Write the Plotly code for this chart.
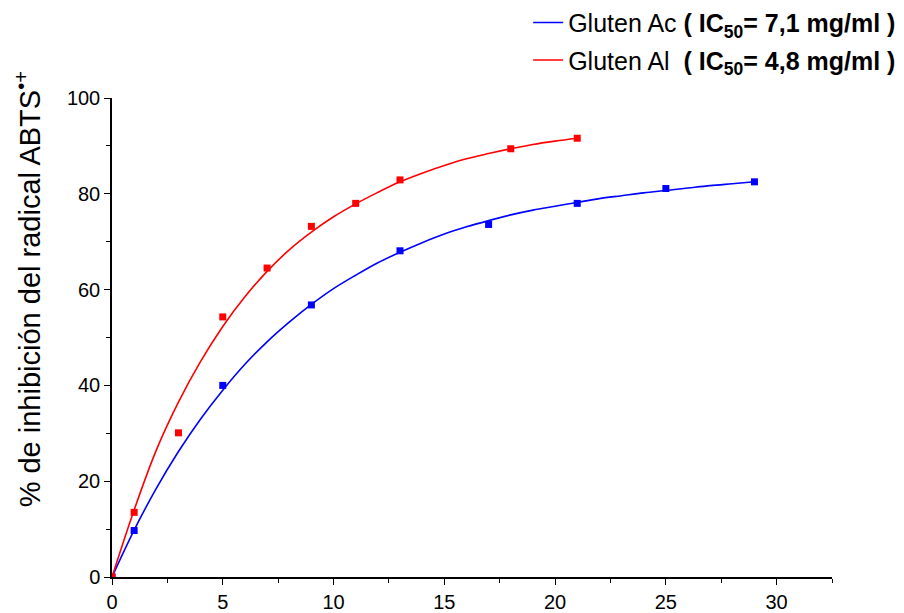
import plotly.graph_objects as go

# Measured points
ac_x = [0, 1, 5, 9, 13, 17, 21, 25, 29]
ac_y = [0, 9.7, 40.0, 56.8, 68.1, 73.6, 78.0, 81.1, 82.5]
al_x = [0, 1, 3, 5, 7, 9, 11, 13, 18, 21]
al_y = [0, 13.5, 30.1, 54.3, 64.5, 73.2, 78.0, 82.9, 89.4, 91.6]

# Fitted curves
ac_fit_x = list(range(0, 30))
ac_fit_y = [0, 9.8, 18.5, 26.2, 33.0, 39.0, 44.4, 49.1, 53.2, 56.9, 60.2, 63.0, 65.6,
            67.8, 69.8, 71.6, 73.1, 74.4, 75.6, 76.6, 77.4, 78.2, 79.0, 79.6, 80.2,
            80.7, 81.2, 81.7, 82.1, 82.5]
al_fit_x = list(range(0, 22))
al_fit_y = [0, 14.0, 26.5, 36.5, 45.0, 52.3, 58.5, 63.8, 68.3, 72.0, 75.2, 77.9, 80.3,
            82.5, 84.3, 85.9, 87.3, 88.4, 89.4, 90.3, 91.0, 91.6]

names = ["Gluten Ac <b>( IC<sub>50</sub>= 7,1 mg/ml )</b>",
         "Gluten Al  <b>( IC<sub>50</sub>= 4,8 mg/ml )</b>"]
colors = ["#0000ff", "#ff0000"]
y_title = "% de inhibición del radical ABTS<sup>•+</sup>"

FONT = "Liberation Sans, Arial"

fig = go.Figure()
for fx, fy, px, py, nm, c, g in [(ac_fit_x, ac_fit_y, ac_x, ac_y, names[0], colors[0], "a"),
                                  (al_fit_x, al_fit_y, al_x, al_y, names[1], colors[1], "b")]:
    fig.add_trace(go.Scatter(x=fx, y=fy, mode="lines", name=nm, legendgroup=g,
                             line=dict(color=c, width=1.6, shape="spline")))
    fig.add_trace(go.Scatter(x=px, y=py, mode="markers", showlegend=False, legendgroup=g,
                             marker=dict(symbol="square", size=7, color=c)))

axis_common = dict(showline=True, linecolor="black", linewidth=1.5, showgrid=False,
                   zeroline=False, ticks="outside", ticklen=6, tickwidth=1.3,
                   tickcolor="black", automargin=False,
                   tickfont=dict(family=FONT, size=20, color="black"))

fig.update_xaxes(range=[0, 32.5], tickvals=[0, 5, 10, 15, 20, 25, 30],
                 minor=dict(tickvals=[2.5, 7.5, 12.5, 17.5, 22.5, 27.5, 32.5], ticks="outside",
                            ticklen=4, tickcolor="black", tickwidth=1.3),
                 **axis_common)
fig.update_yaxes(range=[0, 100], tickvals=[0, 20, 40, 60, 80, 100],
                 minor=dict(tickvals=[10, 30, 50, 70, 90], ticks="outside",
                            ticklen=4, tickcolor="black", tickwidth=1.3),
                 **axis_common)

fig.add_annotation(text=y_title, textangle=-90, xref="paper", yref="paper",
                   x=-0.117, y=0.60, xanchor="center", yanchor="middle", showarrow=False,
                   font=dict(family=FONT, size=29, color="black"))

fig.update_layout(
    width=904, height=613,
    margin=dict(l=112, r=72, t=98, b=36, autoexpand=False),
    plot_bgcolor="white", paper_bgcolor="white",
    legend=dict(x=0.578, y=1.205, xanchor="left", yanchor="top",
                font=dict(family=FONT, size=25, color="black"),
                traceorder="grouped", tracegroupgap=2, bgcolor="rgba(0,0,0,0)"),
)

fig.write_html("out.html")
